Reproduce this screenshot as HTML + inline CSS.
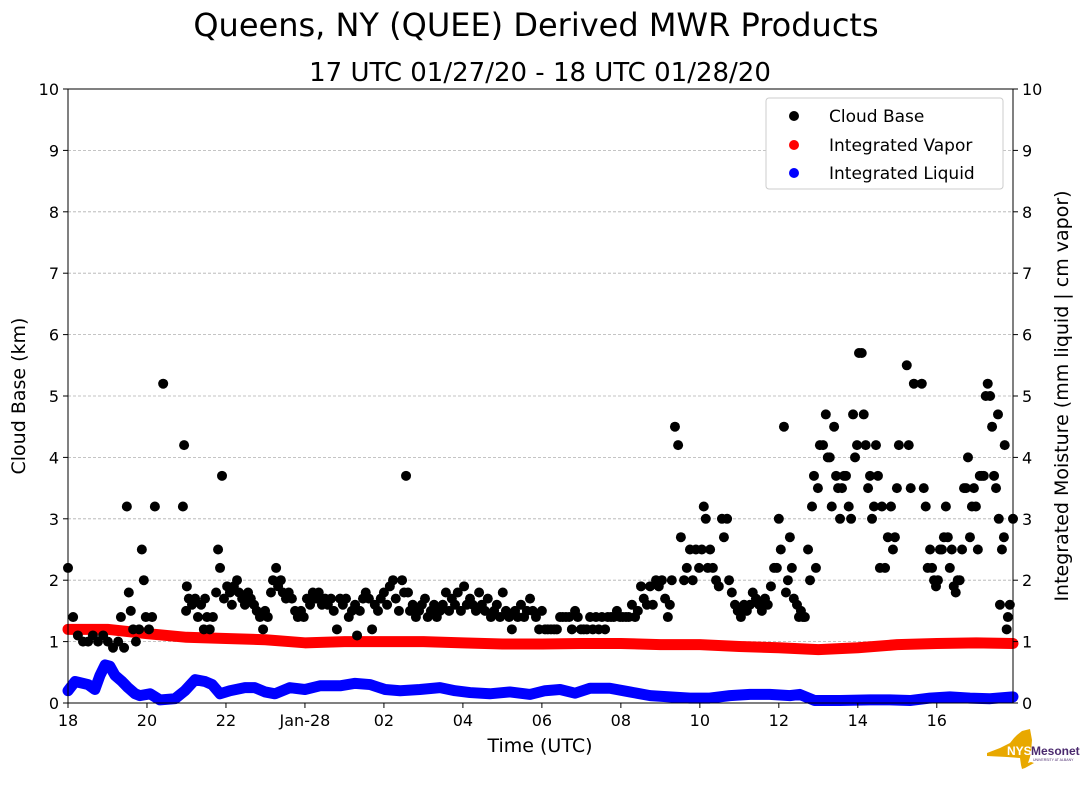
<!DOCTYPE html>
<html><head><meta charset="utf-8"><style>
body{margin:0;background:#fff;width:1089px;height:804px;overflow:hidden;font-family:"Liberation Sans","DejaVu Sans",sans-serif}
svg text{font-family:"DejaVu Sans","Liberation Sans",sans-serif}
svg .logo text{font-family:"Liberation Sans",sans-serif}
</style></head><body>
<svg id="chart" width="1089" height="804" viewBox="0 0 1089 804">
<text x="536" y="36" font-size="32" text-anchor="middle">Queens, NY (QUEE) Derived MWR Products</text>
<text x="540" y="81" font-size="26" text-anchor="middle">17 UTC 01/27/20 - 18 UTC 01/28/20</text>
<g id="grid"></g>
<g id="series"></g>
<g id="axes"></g>
<text x="540" y="752" font-size="19" text-anchor="middle">Time (UTC)</text>
<text transform="translate(25,396) rotate(-90)" font-size="19" text-anchor="middle">Cloud Base (km)</text>
<text transform="translate(1068,396) rotate(-90)" font-size="19" text-anchor="middle">Integrated Moisture (mm liquid | cm vapor)</text>
<g>
<rect x="766" y="98" width="237" height="91" rx="3" fill="#fff" stroke="#ccc"/>
<circle cx="794" cy="116" r="5" fill="#000"/><text x="829" y="122" font-size="17">Cloud Base</text>
<circle cx="794" cy="145" r="5" fill="#f00"/><text x="829" y="151" font-size="17">Integrated Vapor</text>
<circle cx="794" cy="173" r="5" fill="#00f"/><text x="829" y="179" font-size="17">Integrated Liquid</text>
</g>
<g class="logo">
<path d="M987 753 L1000 748 L1010 743 L1014 738 L1017 735 L1022 731 L1030 729 L1032 740 L1031 752 L1030 757 L1028 763 L1031 762 L1034 763 L1025 768 L1022 769 L1021 765 L1020 758 L1007 757 L987 756 Z" fill="#e8a800"/>
<text x="1007" y="755" font-size="12" font-weight="bold" fill="#fff">NYS</text>
<text x="1031" y="755" font-size="12" font-weight="bold" fill="#4b2a6e">Mesonet</text>
<text x="1033" y="761" font-size="3.5" fill="#4b2a6e">UNIVERSITY AT ALBANY</text>
</g>
</svg>
<script>
const cbTime=[0,.13,.25,.38,.51,.63,.76,.89,1.01,1.14,1.27,1.34,1.42,1.49,1.54,1.59,1.65,1.72,1.80,1.87,1.92,1.97,2.05,2.13,2.20,2.41,2.91,2.94,2.99,3.01,3.06,3.14,3.22,3.29,3.37,3.44,3.47,3.52,3.59,3.67,3.75,3.80,3.85,3.90,3.95,4.03,4.10,4.15,4.20,4.28,4.33,4.41,4.48,4.56,4.63,4.71,4.78,4.86,4.94,4.99,5.06,5.14,5.19,5.27,5.32,5.39,5.44,5.52,5.59,5.67,5.75,5.82,5.90,5.97,6.05,6.13,6.20,6.28,6.35,6.43,6.51,6.58,6.66,6.73,6.81,6.89,6.96,7.04,7.11,7.19,7.27,7.32,7.39,7.47,7.54,7.62,7.70,7.77,7.85,7.92,8.00,8.08,8.15,8.23,8.30,8.38,8.46,8.51,8.56,8.61,8.66,8.73,8.81,8.89,8.96,9.04,9.11,9.19,9.27,9.34,9.42,9.49,9.57,9.65,9.72,9.80,9.87,9.95,10.03,10.10,10.18,10.25,10.33,10.41,10.48,10.56,10.63,10.71,10.79,10.86,10.94,11.01,11.09,11.17,11.24,11.32,11.39,11.47,11.55,11.62,11.70,11.77,11.85,11.93,12.00,12.08,12.15,12.23,12.31,12.38,12.46,12.53,12.61,12.69,12.76,12.84,12.91,12.99,13.06,13.14,13.22,13.29,13.37,13.44,13.52,13.60,13.67,13.75,13.82,13.90,13.98,14.05,14.13,14.20,14.28,14.36,14.43,14.51,14.58,14.66,14.74,14.81,14.89,14.96,15.04,15.12,15.19,15.24,15.29,15.37,15.45,15.52,15.60,15.67,15.75,15.82,15.90,15.98,16.05,16.10,16.15,16.20,16.26,16.33,16.41,16.48,16.56,16.61,16.69,16.74,16.81,16.89,16.96,17.04,17.12,17.19,17.27,17.34,17.42,17.50,17.57,17.65,17.72,17.80,17.88,17.95,18.00,18.05,18.13,18.18,18.23,18.28,18.33,18.38,18.46,18.51,18.56,18.61,18.66,18.74,18.79,18.84,18.89,18.94,18.99,19.04,19.12,19.19,19.24,19.29,19.34,19.40,19.45,19.50,19.55,19.60,19.65,19.70,19.77,19.83,19.88,19.93,19.98,20.03,20.10,20.15,20.20,20.26,20.31,20.36,20.41,20.46,20.51,20.56,20.61,20.69,20.76,20.84,20.89,20.94,20.99,21.04,21.24,21.29,21.34,21.42,21.62,21.67,21.72,21.77,21.83,21.88,21.93,21.98,22.03,22.08,22.13,22.18,22.23,22.28,22.33,22.38,22.43,22.48,22.53,22.58,22.64,22.69,22.74,22.79,22.84,22.89,22.94,22.99,23.04,23.09,23.14,23.19,23.24,23.29,23.35,23.40,23.45,23.50,23.55,23.57,23.60,23.65,23.70,23.72,23.77,23.80,23.85,23.93];
const cbValue=[2.2,1.4,1.1,1.0,1.0,1.1,1.0,1.1,1.0,0.9,1.0,1.4,0.9,3.2,1.8,1.5,1.2,1.0,1.2,2.5,2.0,1.4,1.2,1.4,3.2,5.2,3.2,4.2,1.5,1.9,1.7,1.6,1.7,1.4,1.6,1.2,1.7,1.4,1.2,1.4,1.8,2.5,2.2,3.7,1.7,1.9,1.8,1.6,1.9,2.0,1.8,1.7,1.6,1.8,1.7,1.6,1.5,1.4,1.2,1.5,1.4,1.8,2.0,2.2,1.9,2.0,1.8,1.7,1.8,1.7,1.5,1.4,1.5,1.4,1.7,1.6,1.8,1.7,1.8,1.6,1.7,1.6,1.7,1.5,1.2,1.7,1.6,1.7,1.4,1.5,1.6,1.1,1.5,1.7,1.8,1.7,1.2,1.6,1.5,1.7,1.8,1.6,1.9,2.0,1.7,1.5,2.0,1.8,3.7,1.8,1.5,1.6,1.4,1.5,1.6,1.7,1.4,1.5,1.6,1.4,1.5,1.6,1.8,1.5,1.7,1.6,1.8,1.5,1.9,1.6,1.7,1.6,1.5,1.8,1.6,1.5,1.7,1.4,1.5,1.6,1.4,1.8,1.5,1.4,1.2,1.5,1.4,1.6,1.4,1.5,1.7,1.5,1.4,1.2,1.5,1.2,1.2,1.2,1.2,1.2,1.4,1.4,1.4,1.4,1.2,1.5,1.4,1.2,1.2,1.2,1.4,1.2,1.4,1.2,1.4,1.2,1.4,1.4,1.4,1.5,1.4,1.4,1.4,1.4,1.6,1.4,1.5,1.9,1.7,1.6,1.9,1.6,2.0,1.9,2.0,1.7,1.4,1.6,2.0,4.5,4.2,2.7,2.0,2.2,2.5,2.0,2.5,2.2,2.5,3.2,3.0,2.2,2.5,2.2,2.0,1.9,3.0,2.7,3.0,2.0,1.8,1.6,1.5,1.4,1.6,1.5,1.6,1.8,1.7,1.6,1.5,1.7,1.6,1.9,2.2,2.2,3.0,2.5,4.5,1.8,2.0,2.7,2.2,1.7,1.6,1.4,1.5,1.4,1.4,2.5,2.0,3.2,3.7,2.2,3.5,4.2,4.2,4.7,4.0,4.0,3.2,4.5,3.7,3.5,3.0,3.5,3.7,3.7,3.2,3.0,4.7,4.0,4.2,5.7,5.7,4.7,4.2,3.5,3.7,3.0,3.2,4.2,3.7,2.2,3.2,2.2,2.7,3.2,2.5,2.7,3.5,4.2,5.5,4.2,3.5,5.2,5.2,3.5,3.2,2.2,2.5,2.2,2.0,1.9,2.0,2.5,2.5,2.7,3.2,2.7,2.2,2.5,1.9,1.8,2.0,2.0,2.5,3.5,3.5,4.0,2.7,3.2,3.5,3.2,2.5,3.7,3.7,3.7,5.0,5.2,5.0,4.5,3.7,3.5,4.7,3.0,1.6,2.5,2.7,4.2,1.2,1.4,1.6,3.0];
const vapTime=[0,1,2,3,4,5,6,7,8,9,10,11,12,13,14,15,16,17,18,19,20,21,22,23,23.93];
const vapValue=[1.2,1.2,1.13,1.07,1.05,1.03,0.98,1.0,1.0,1.0,0.98,0.96,0.96,0.97,0.97,0.95,0.95,0.92,0.9,0.87,0.9,0.95,0.97,0.98,0.97];
const liqTime=[0,0.18,0.51,0.68,0.81,0.94,1.06,1.19,1.37,1.52,1.70,1.82,2.08,2.33,2.71,2.96,3.22,3.47,3.65,3.85,4.10,4.48,4.73,4.99,5.24,5.62,6.00,6.38,6.89,7.27,7.65,8.03,8.41,8.91,9.42,9.80,10.18,10.68,11.19,11.70,12.08,12.46,12.84,13.22,13.72,14.23,14.74,15.24,15.75,16.25,16.76,17.27,17.77,18.28,18.53,18.91,19.55,20.31,20.81,21.32,21.83,22.33,22.84,23.35,23.93];
const liqValue=[0.2,0.35,0.3,0.22,0.45,0.62,0.6,0.45,0.35,0.25,0.15,0.12,0.15,0.05,0.07,0.2,0.38,0.35,0.3,0.15,0.2,0.25,0.25,0.18,0.15,0.25,0.22,0.28,0.28,0.32,0.3,0.22,0.2,0.22,0.25,0.2,0.17,0.15,0.18,0.14,0.2,0.22,0.16,0.24,0.24,0.18,0.12,0.1,0.08,0.08,0.12,0.14,0.14,0.12,0.14,0.04,0.04,0.05,0.05,0.04,0.08,0.1,0.08,0.07,0.1];
const xTickHours=[0,2,4,6,8,10,12,14,16,18,20,22];
const xTickLabels=["18","20","22","Jan-28","02","04","06","08","10","12","14","16"];
const yTicks=[0,1,2,3,4,5,6,7,8,9,10];

const X0=68,X1=1013,Y0=703,Y1=89,HMAX=23.93;
const sx=h=>X0+h*(X1-X0)/HMAX;
const sy=v=>Y0-v*(Y0-Y1)/10;
const NS="http://www.w3.org/2000/svg";
function mk(tag,parent,attrs){const e=document.createElementNS(NS,tag);for(const k in attrs)e.setAttribute(k,attrs[k]);parent.appendChild(e);return e;}
const grid=document.getElementById('grid'),ser=document.getElementById('series'),axes=document.getElementById('axes');
yTicks.forEach(v=>{
  if(v>0&&v<10){const l=mk('line',grid,{x1:X0,x2:X1,y1:sy(v),y2:sy(v),stroke:'#b0b0b0','stroke-dasharray':'3,2','stroke-width':0.8});
  
  }
  mk('line',axes,{x1:X0-5,x2:X0,y1:sy(v),y2:sy(v),stroke:'#000'});
  mk('line',axes,{x1:X1,x2:X1+5,y1:sy(v),y2:sy(v),stroke:'#000'});
  const t1=mk('text',axes,{x:X0-9,y:sy(v)+6,'font-size':16,'text-anchor':'end'});t1.textContent=v;
  
  
  const t2=mk('text',axes,{x:X1+9,y:sy(v)+6,'font-size':16}); t2.textContent=v;
  
  
});
xTickHours.forEach((h,i)=>{
  mk('line',axes,{x1:sx(h),x2:sx(h),y1:Y0,y2:Y0+5,stroke:'#000'});
  const t=mk('text',axes,{x:sx(h),y:Y0+23,'font-size':16,'text-anchor':'middle'});t.textContent=xTickLabels[i];
  
  
});
const frame=mk('rect',axes,{x:X0,y:Y1,width:X1-X0,height:Y0-Y1,fill:'none',stroke:'#000','stroke-width':1});


function band(times,vals,color,name){
  const p=mk('polyline',ser,{points:times.map((t,i)=>sx(t)+','+sy(vals[i])).join(' '),fill:'none',stroke:color,'stroke-width':11,'stroke-linecap':'round','stroke-linejoin':'round'});
  
  
}
band(vapTime,vapValue,'#f00','integrated-vapor-series');
band(liqTime,liqValue,'#00f','integrated-liquid-series');
cbTime.forEach((t,i)=>{
  const c=mk('circle',ser,{cx:sx(t),cy:sy(cbValue[i]),r:5,fill:'#000'});
  
  
});
</script>
</body></html>
